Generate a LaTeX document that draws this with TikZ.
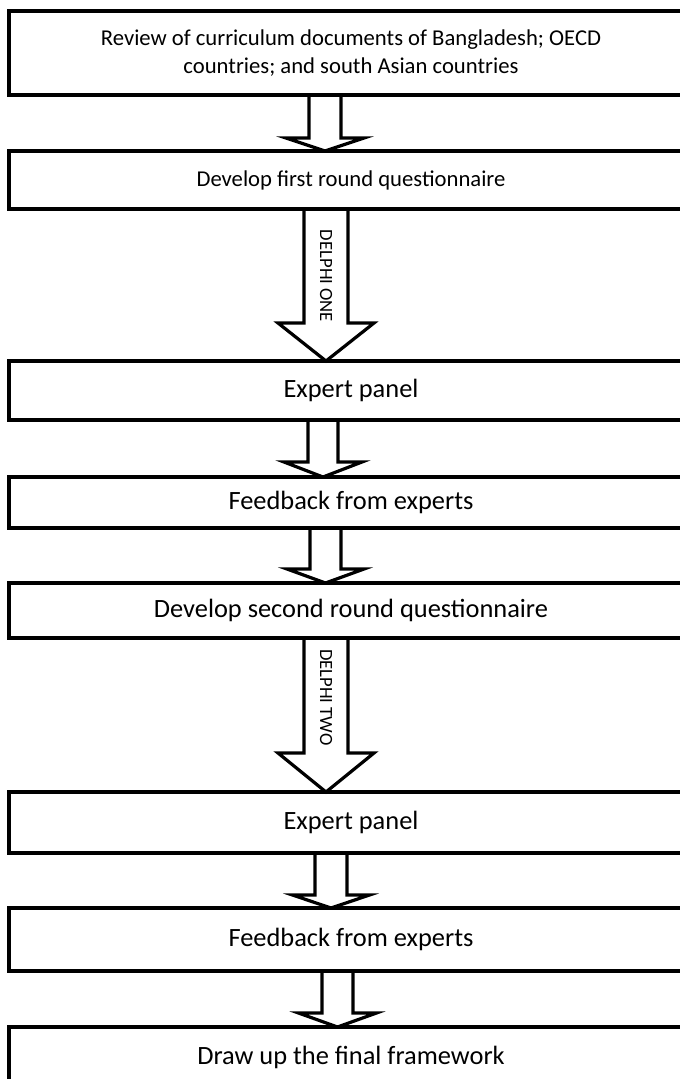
\documentclass[tikz,border=0pt]{standalone}
\usepackage{fontspec}
\setmainfont{Carlito}
\usetikzlibrary{calc}
\newcommand\blkarrow[6]{%
  \draw[barrow] ($(#1.south -| #3)+(-#4,0)$) -- ($(#2.north -| #3)+(-#4,-#6)$) -- ($(#2.north -| #3)+(-#5,-#6)$) -- (#2.north -| #3) -- ($(#2.north -| #3)+(#5,-#6)$) -- ($(#2.north -| #3)+(#4,-#6)$) -- ($(#1.south -| #3)+(#4,0)$);%
}
\begin{document}
\begin{tikzpicture}[x=0.75pt,y=-0.75pt,
  box/.style={draw=black, line width=2.4pt, inner sep=0pt, outer sep=0pt, minimum width={684*0.75pt}, align=center},
  smalltext/.style={font=\fontsize{17}{21}\selectfont},
  bigtext/.style={font=\fontsize{19.8}{24}\selectfont},
  barrow/.style={draw=black, line width=2.4pt, line join=miter},
  lab/.style={font=\fontsize{14}{16}\selectfont, rotate=-90, inner sep=0pt}]
\useasboundingbox (0,0) rectangle (680,1079);
\fill[white] (0,0) rectangle (680,1079);
\clip (0,0) rectangle (680,1079);
\node[box, smalltext, minimum height={84*0.75pt}] (b1) at (351,53) {Review of curriculum documents of Bangladesh; OECD\\countries; and south Asian countries};
\node[box, smalltext, minimum height={58*0.75pt}] (b2) at (351,180) {Develop first round questionnaire};
\node[box, bigtext, minimum height={59*0.75pt}] (b3) at (351,390.5) {Expert panel};
\node[box, bigtext, minimum height={51*0.75pt}] (b4) at (351,502.5) {Feedback from experts};
\node[box, bigtext, minimum height={55*0.75pt}] (b5) at (351,610.5) {Develop second round questionnaire};
\node[box, bigtext, minimum height={61*0.75pt}] (b6) at (351,822.5) {Expert panel};
\node[box, bigtext, minimum height={63*0.75pt}] (b7) at (351,939.5) {Feedback from experts};
\node[box, bigtext, minimum height={61*0.75pt}] (b8) at (351,1057.5) {Draw up the final framework};
\coordinate (x1) at (325,0);
\coordinate (x2) at (326,0);
\coordinate (x3) at (323,0);
\coordinate (x4) at (325.5,0);
\coordinate (x5) at (326,0);
\coordinate (x6) at (331,0);
\coordinate (x7) at (337.5,0);
\blkarrow{b1}{b2}{x1}{16}{39}{13}
\blkarrow{b2}{b3}{x2}{22}{48}{38}
\blkarrow{b3}{b4}{x3}{15}{39}{15}
\blkarrow{b4}{b5}{x4}{15.5}{38.5}{14}
\blkarrow{b5}{b6}{x5}{22}{48}{39}
\blkarrow{b6}{b7}{x6}{16}{38.5}{13}
\blkarrow{b7}{b8}{x7}{15.5}{39}{14}
\node[lab] (d1) at ($(b2.south -| x2)+(0,67)$) {DELPHI ONE};
\node[lab] (d2) at ($(b5.south -| x5)+(0,59.5)$) {DELPHI TWO};
\end{tikzpicture}
\end{document}
